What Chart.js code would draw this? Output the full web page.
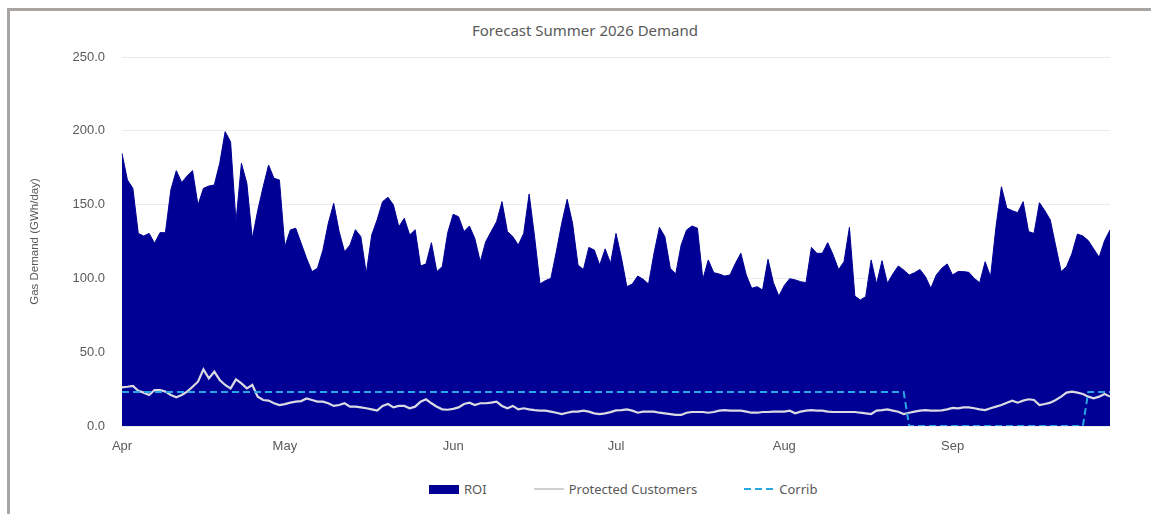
<!DOCTYPE html>
<html lang="en">
<head>
    <meta charset="UTF-8">
    <title>Forecast Summer 2026 Demand</title>
    <script src="https://cdn.jsdelivr.net/npm/chart.js@4.4.1/dist/chart.umd.min.js"></script>
    <style>
        body {
            margin: 0;
            background: #fff;
            font-family: 'Noto Sans', Arial, sans-serif;
        }
        .frame {
            position: absolute;
            left: 7px;
            top: 8px;
            width: 1144px;
            height: 506px;
            box-sizing: border-box;
            border-left: 3px solid #a8a5a2;
            border-top: 3px solid #a8a5a2;
        }
        .chart-title {
            position: absolute;
            top: 20px;
            left: 0;
            width: 1170px;
            text-align: center;
            font-size: 15px;
            color: #595959;
        }
        .chart-box {
            position: absolute;
            left: 0;
            top: 0;
            width: 1151px;
            height: 470px;
        }
        #legend {
            position: absolute;
            left: 429px;
            top: 479px;
            display: flex;
            align-items: center;
            gap: 47px;
            font-size: 13px;
            color: #595959;
            height: 20px;
        }
        #legend .item {
            display: flex;
            align-items: center;
            gap: 5px;
        }
        #legend .swatch {
            width: 30px;
        }
    </style>
</head>
<body>
<div class="frame"></div>
<div class="chart-title">Forecast Summer 2026 Demand</div>
<div class="chart-box">
    <canvas id="demandChart"></canvas>
</div>
<div id="legend"></div>

<script>
    // daily values, 1 Apr - 30 Sep 2026 (GWh/day)
    const monthNames = ['Jan', 'Feb', 'Mar', 'Apr', 'May', 'Jun', 'Jul', 'Aug', 'Sep', 'Oct', 'Nov', 'Dec'];
    const dayCount = 183;

    const roi = [
        // Apr
        184.7, 166.7, 161.0, 130.5, 128.7, 130.5, 123.8, 131.0, 131.0, 160.0,
        173.0, 165.0, 169.4, 173.0, 149.7, 161.0, 162.6, 163.3, 178.0, 199.4,
        192.6, 138.4, 178.0, 164.4, 127.0, 146.0, 162.0, 176.8, 167.8, 166.7,
        // May
        121.5, 132.8, 134.0, 123.8, 113.6, 104.6, 106.8, 119.0, 137.3, 150.9,
        131.7, 118.0, 122.6, 133.0, 128.3, 103.4, 129.4, 139.7, 152.0, 155.0,
        149.7, 135.0, 140.7, 129.4, 133.0, 108.4, 109.8, 124.2, 104.6, 108.0, 131.0,
        // Jun
        143.4, 141.8, 131.7, 135.5, 127.0, 111.3, 124.9, 131.7, 138.4, 152.0,
        131.7, 128.3, 122.6, 130.5, 157.2, 128.3, 96.2, 98.5, 100.0, 118.0,
        137.3, 153.6, 137.3, 109.0, 106.0, 121.0, 119.2, 109.0, 120.0, 110.2,
        // Jul
        130.5, 114.0, 94.4, 96.2, 101.6, 99.4, 96.2, 117.0, 134.6, 128.3,
        106.8, 103.0, 122.6, 132.8, 135.5, 134.0, 99.4, 112.5, 103.9, 103.0,
        101.6, 102.3, 110.2, 117.0, 102.3, 93.3, 94.4, 92.1, 112.9, 97.1, 88.0,
        // Aug
        95.2, 99.8, 99.0, 97.8, 97.1, 121.0, 117.0, 117.0, 124.2, 115.9,
        106.0, 111.3, 134.6, 88.0, 85.4, 87.6, 112.5, 96.2, 112.0, 96.7,
        103.0, 108.4, 105.7, 102.3, 103.9, 106.0, 101.2, 93.3, 102.3, 106.8, 109.8,
        // Sep
        102.3, 104.6, 104.6, 104.1, 100.0, 97.1, 111.3, 101.2, 135.0, 162.1,
        147.5, 145.9, 144.5, 152.0, 131.7, 130.5, 151.3, 145.9, 139.6, 122.0,
        104.6, 108.0, 117.0, 130.0, 128.7, 125.6, 120.0, 114.3, 125.6, 132.8
    ];

    const protectedCustomers = [
        // Apr
        26.2, 26.6, 27.1, 23.9, 22.6, 21.0, 24.4, 24.4, 23.3, 21.0,
        19.4, 21.0, 23.3, 26.6, 30.0, 38.4, 32.3, 36.8, 31.2, 27.8,
        25.5, 31.6, 28.9, 25.5, 27.8, 19.9, 17.6, 17.2, 15.4, 14.2,
        // May
        14.8, 15.8, 16.5, 16.9, 18.7, 17.6, 16.5, 16.5, 15.4, 13.6,
        14.2, 15.4, 13.1, 13.1, 12.6, 12.0, 11.3, 10.4, 13.6, 14.9,
        12.6, 13.6, 13.6, 12.0, 13.1, 16.5, 18.1, 15.4, 13.1, 11.3, 11.0,
        // Jun
        11.6, 12.6, 14.9, 15.8, 14.2, 15.4, 15.4, 15.8, 16.5, 13.6,
        12.0, 13.6, 11.3, 12.0, 11.3, 10.8, 10.4, 10.4, 9.7, 9.0,
        8.1, 9.0, 9.7, 9.7, 10.4, 9.7, 8.6, 8.1, 8.6, 9.4,
        // Jul
        10.6, 10.8, 11.3, 10.4, 9.0, 9.7, 9.7, 9.7, 9.0, 8.6,
        8.1, 7.5, 7.5, 9.0, 9.5, 9.5, 9.5, 9.0, 9.5, 10.4,
        10.8, 10.4, 10.4, 10.4, 9.7, 9.0, 9.0, 9.5, 9.5, 9.7, 9.7,
        // Aug
        9.7, 10.4, 8.6, 9.7, 10.4, 10.8, 10.4, 10.4, 9.7, 9.5,
        9.5, 9.5, 9.5, 9.5, 9.0, 8.6, 8.1, 10.4, 10.8, 11.3,
        10.4, 9.7, 8.1, 9.0, 9.7, 10.4, 10.8, 10.4, 10.4, 10.6, 11.3,
        // Sep
        12.3, 12.0, 12.6, 12.6, 12.0, 11.3, 10.8, 12.0, 13.1, 14.2,
        15.8, 17.2, 15.8, 17.2, 18.1, 17.6, 14.2, 14.9, 15.8, 17.6,
        19.9, 22.6, 23.3, 22.6, 21.7, 19.9, 18.7, 19.9, 21.7, 19.9
    ];

    const corrib = [
        // Apr
        23, 23, 23, 23, 23, 23, 23, 23, 23, 23, 23, 23, 23, 23, 23,
        23, 23, 23, 23, 23, 23, 23, 23, 23, 23, 23, 23, 23, 23, 23,
        // May
        23, 23, 23, 23, 23, 23, 23, 23, 23, 23, 23, 23, 23, 23, 23, 23,
        23, 23, 23, 23, 23, 23, 23, 23, 23, 23, 23, 23, 23, 23, 23,
        // Jun
        23, 23, 23, 23, 23, 23, 23, 23, 23, 23, 23, 23, 23, 23, 23,
        23, 23, 23, 23, 23, 23, 23, 23, 23, 23, 23, 23, 23, 23, 23,
        // Jul
        23, 23, 23, 23, 23, 23, 23, 23, 23, 23, 23, 23, 23, 23, 23, 23,
        23, 23, 23, 23, 23, 23, 23, 23, 23, 23, 23, 23, 23, 23, 23,
        // Aug (outage from the 24th)
        23, 23, 23, 23, 23, 23, 23, 23, 23, 23, 23, 23, 23, 23, 23, 23,
        23, 23, 23, 23, 23, 23, 23, 0, 0, 0, 0, 0, 0, 0, 0,
        // Sep (back on the 26th)
        0, 0, 0, 0, 0, 0, 0, 0, 0, 0, 0, 0, 0, 0, 0,
        0, 0, 0, 0, 0, 0, 0, 0, 0, 0, 23, 23, 23, 23, 23
    ];

    const yTicks = { min: 0, max: 250, step: 50 };

    // one category label per day
    const days = [];
    for (let i = 0; i < dayCount; i++) {
        days.push(new Date(2026, 3, 1 + i));
    }
    const labels = days.map(d => d.toISOString().slice(0, 10));

    const textColor = '#595959';

    // legend drawn as html below the canvas
    const htmlLegend = {
        id: 'htmlLegend',
        afterUpdate(chart) {
            const box = document.getElementById('legend');
            box.innerHTML = '';
            chart.data.datasets.forEach(ds => {
                const item = document.createElement('div');
                item.className = 'item';
                const sw = document.createElement('span');
                sw.className = 'swatch';
                if (ds.fill) {
                    sw.style.height = '9px';
                    sw.style.background = ds.backgroundColor;
                } else if (ds.borderDash) {
                    sw.style.height = ds.borderWidth + 'px';
                    sw.style.background = `repeating-linear-gradient(90deg, ${ds.borderColor} 0 7px, transparent 7px 11px)`;
                } else {
                    sw.style.height = ds.borderWidth + 'px';
                    sw.style.background = ds.legendColor || ds.borderColor;
                }
                const txt = document.createElement('span');
                txt.textContent = ds.label;
                item.appendChild(sw);
                item.appendChild(txt);
                box.appendChild(item);
            });
        }
    };

    const ctx = document.getElementById('demandChart').getContext('2d');
    const demandChart = new Chart(ctx, {
        type: 'line',
        data: {
            labels: labels,
            datasets: [{
                label: 'ROI',
                data: roi,
                backgroundColor: '#000094',
                borderColor: '#000094',
                borderWidth: 1,
                fill: 'origin',
                order: 2
            }, {
                label: 'Protected Customers',
                data: protectedCustomers,
                borderColor: '#dadae2',
                legendColor: '#cfcfcf',
                borderWidth: 2.2,
                fill: false,
                order: 1
            }, {
                label: 'Corrib',
                data: corrib,
                borderColor: '#2aa5e4',
                borderWidth: 2,
                borderDash: [7, 4],
                fill: false,
                order: 0
            }]
        },
        options: {
            responsive: true,
            maintainAspectRatio: false,
            animation: false,
            layout: {
                padding: { left: 24, right: 41, top: 57, bottom: 0 }
            },
            elements: {
                point: { radius: 0 },
                line: { tension: 0 }
            },
            plugins: {
                legend: { display: false },
                tooltip: { enabled: false }
            },
            scales: {
                x: {
                    offset: false,
                    grid: { display: false, drawTicks: false },
                    border: { display: false },
                    ticks: {
                        autoSkip: false,
                        maxRotation: 0,
                        padding: 13,
                        color: textColor,
                        font: { size: 13 },
                        callback: function (value, index) {
                            const d = days[index];
                            return d.getDate() === 1 ? monthNames[d.getMonth()] : '';
                        }
                    },
                    afterFit(scale) {
                        scale.height = 44;
                    }
                },
                y: {
                    min: yTicks.min,
                    max: yTicks.max,
                    grid: { color: '#ebebeb', drawTicks: false },
                    border: { display: false },
                    ticks: {
                        stepSize: yTicks.step,
                        padding: 17,
                        color: textColor,
                        font: { size: 13 },
                        callback: v => v.toFixed(1)
                    },
                    title: {
                        display: true,
                        text: 'Gas Demand (GWh/day)',
                        color: textColor,
                        font: { size: 11.5 }
                    },
                    afterFit(scale) {
                        scale.width = 98;
                    }
                }
            }
        },
        plugins: [htmlLegend]
    });
</script>
</body>
</html>
